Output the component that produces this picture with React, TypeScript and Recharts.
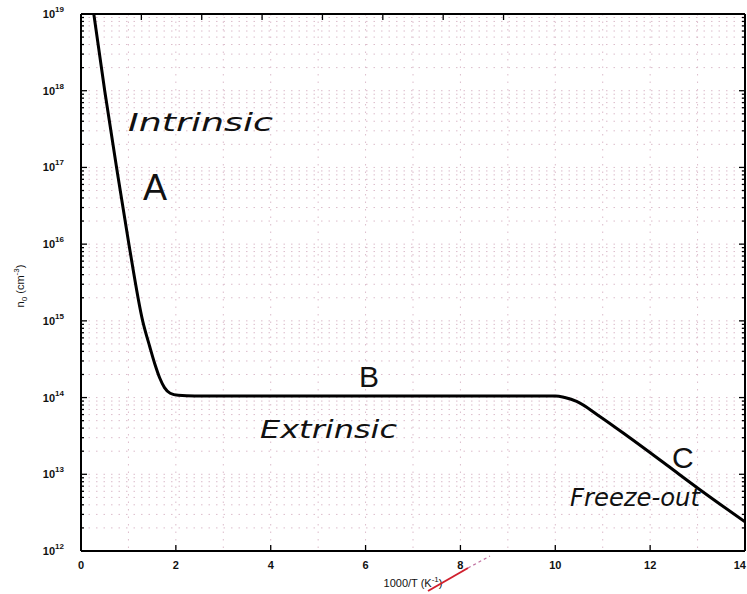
import { LineChart, Line, XAxis, YAxis, CartesianGrid } from "recharts";

// 1000/T (K^-1) and electron concentration n0 (cm^-3)
const INV_T = [0.27, 0.5, 0.75, 1.01, 1.3, 1.45, 1.56, 1.66, 1.76, 1.88, 2.05, 2.4, 4, 6, 8, 10, 10.2, 10.45, 10.9, 11.6, 12.35, 13.05, 14];
const N0 = [1e19, 1e18, 1e17, 1e16, 1e15, 4.6e14, 2.7e14, 1.8e14, 1.35e14, 1.14e14, 1.07e14, 1.05e14, 1.05e14, 1.05e14, 1.05e14, 1.05e14, 1.0e14, 8.9e13, 5.9e13, 2.9e13, 1.32e13, 6.3e12, 2.4e12];

const X_TICKS = [0, 1, 2, 3, 4, 5, 6, 7, 8, 9, 10, 11, 12, 13, 14];
const X_LABELS = [0, 2, 4, 6, 8, 10, 12, 14];
const DECADES = [12, 13, 14, 15, 16, 17, 18, 19];

// decade + minor (2..9) tick values for the log axis
const Y_TICKS: number[] = [];
DECADES.forEach((e) => {
  for (let m = 1; m <= 9; m++) {
    if (e === 19 && m > 1) break;
    Y_TICKS.push(m * Math.pow(10, e));
  }
});

const data = INV_T.map((x, i) => ({ x, n: N0[i] }));

const FONT = "'Liberation Sans', Arial, sans-serif";
const HAND = "'DejaVu Sans', sans-serif";

const decadeOf = (v: number) => {
  const e = Math.round(Math.log10(v));
  return Math.abs(v - Math.pow(10, e)) < v * 1e-6 ? e : null;
};

const LeftTick = ({ x, y, payload }: any) => {
  const e = decadeOf(payload.value);
  return (
    <g>
      <line x1={x} x2={x + (e !== null ? 6 : 3)} y1={y} y2={y} stroke="#000" strokeWidth={1.3} />
      {e !== null && (
        <text x={x - 17} y={y + 4} textAnchor="end" fontFamily={FONT} fontWeight="bold" fontSize={11} fill="#111">
          10<tspan dy={-6} fontSize={8}>{e}</tspan>
        </text>
      )}
    </g>
  );
};

const RightTick = ({ x, y, payload }: any) => {
  const e = decadeOf(payload.value);
  return <line x1={x} x2={x - (e !== null ? 6 : 3)} y1={y} y2={y} stroke="#000" strokeWidth={1.3} />;
};

const BottomTick = ({ x, y, payload }: any) => {
  if (!X_LABELS.includes(payload.value)) return <g />;
  const last = payload.value === 14;
  return (
    <g>
      <line x1={x} x2={x} y1={y} y2={y - 6} stroke="#000" strokeWidth={1.3} />
      <text x={last ? 746 : x} y={y + 18} textAnchor={last ? "end" : "middle"} fontFamily={FONT} fontWeight="bold" fontSize={11} fill="#111">
        {payload.value}
      </text>
    </g>
  );
};

const TopTick = ({ x, y, payload }: any) => {
  if (!X_LABELS.includes(payload.value)) return <g />;
  return <line x1={x} x2={x} y1={y} y2={y + 6} stroke="#000" strokeWidth={1.3} />;
};

const AXIS_LINE = { stroke: "#000", strokeWidth: 2 };

export default function App() {
  return (
    <div style={{ position: "absolute", left: 0, top: 0, width: 747, height: 594, overflow: "hidden", background: "#fff" }}>
      <LineChart width={747} height={594} data={data} margin={{ top: 13, right: 1, bottom: 0, left: 0 }}>
        <CartesianGrid stroke="#dcbccb" strokeDasharray="1.5 6" strokeWidth={1} />
        <XAxis
          dataKey="x"
          type="number"
          domain={[0, 14]}
          ticks={X_TICKS}
          interval={0}
          height={43}
          tickSize={0}
          tickMargin={0}
          tickLine={false}
          axisLine={AXIS_LINE}
          tick={(p: any) => <BottomTick {...p} />}
          allowDataOverflow
        />
        <XAxis
          xAxisId="top"
          orientation="top"
          type="number"
          domain={[0, 14]}
          ticks={X_TICKS}
          interval={0}
          height={1}
          tickSize={0}
          tickMargin={0}
          tickLine={false}
          axisLine={AXIS_LINE}
          tick={(p: any) => <TopTick {...p} />}
          allowDataOverflow
        />
        <YAxis
          type="number"
          scale="log"
          domain={[1e12, 1e19]}
          ticks={Y_TICKS}
          interval={0}
          width={81}
          tickSize={0}
          tickMargin={0}
          tickLine={false}
          axisLine={AXIS_LINE}
          tick={(p: any) => <LeftTick {...p} />}
          allowDataOverflow
        />
        <YAxis
          yAxisId="right"
          orientation="right"
          type="number"
          scale="log"
          domain={[1e12, 1e19]}
          ticks={Y_TICKS}
          interval={0}
          width={1}
          tickSize={0}
          tickMargin={0}
          tickLine={false}
          axisLine={AXIS_LINE}
          tick={(p: any) => <RightTick {...p} />}
          allowDataOverflow
        />
        <Line
          type="monotone"
          dataKey="n"
          stroke="#000"
          strokeWidth={3}
          dot={false}
          isAnimationActive={false}
        />
      </LineChart>

      {/* axis titles and hand-written annotations */}
      <svg width={747} height={594} style={{ position: "absolute", left: 0, top: 0, pointerEvents: "none" }}>
        <text transform="translate(24,286) rotate(-90)" textAnchor="middle" fontFamily={FONT} fontSize={11} fill="#111">
          n<tspan dy={3} fontSize={8}>0</tspan>
          <tspan dy={-3}> (cm</tspan>
          <tspan dy={-5} fontSize={8}>-3</tspan>
          <tspan dy={5}>)</tspan>
        </text>
        <text x={413} y={587} textAnchor="middle" fontFamily={FONT} fontSize={11} fill="#111">
          1000/T (K<tspan dy={-5} fontSize={8}>-1</tspan><tspan dy={5}>)</tspan>
        </text>
        <line x1={428} y1={591} x2={468} y2={568} stroke="#d0202e" strokeWidth={2} />
        <line x1={468} y1={568} x2={490} y2={556} stroke="#c070a0" strokeWidth={1.2} strokeDasharray="3 3" />

        <text x={128} y={131} fontFamily={HAND} fontStyle="italic" fontSize={24} fill="#111" textLength={145} lengthAdjust="spacingAndGlyphs">
          Intrinsic
        </text>
        <text x={143} y={200} fontFamily={FONT} fontSize={36} fill="#111">A</text>
        <text x={359} y={387} fontFamily={FONT} fontSize={30} fill="#111">B</text>
        <text x={260} y={438} fontFamily={HAND} fontStyle="italic" fontSize={24} fill="#111" textLength={137} lengthAdjust="spacingAndGlyphs">
          Extrinsic
        </text>
        <text x={672} y={468} fontFamily={FONT} fontSize={30} fill="#111">C</text>
        <text x={570} y={506} fontFamily={HAND} fontStyle="italic" fontSize={24} fill="#111" textLength={130} lengthAdjust="spacingAndGlyphs">
          Freeze-out
        </text>
      </svg>
    </div>
  );
}
